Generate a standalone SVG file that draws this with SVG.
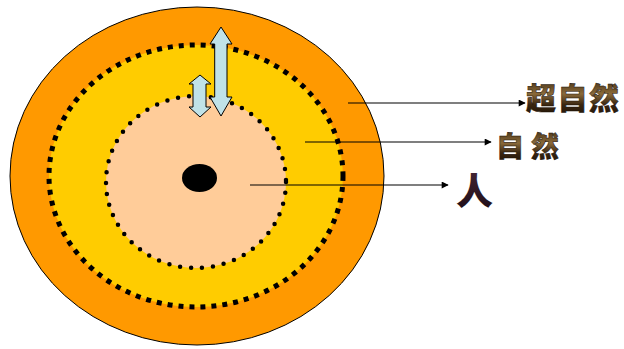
<svg xmlns="http://www.w3.org/2000/svg" width="624" height="349" viewBox="0 0 624 349">
<style>
.lbl{font-family:"Noto Sans CJK SC","Noto Sans CJK TC",sans-serif;font-weight:900;}
.conn{stroke:#000;stroke-width:1.2;fill:none;marker-end:url(#ah);}
.dbl{fill:#C0E2E8;stroke:#000;stroke-width:1;}
</style>
<defs>
<marker id="ah" viewBox="0 0 10 10" refX="9" refY="5" markerWidth="8" markerHeight="7" markerUnits="userSpaceOnUse" orient="auto">
<path d="M0,0 L10,5 L0,10 z" fill="#000"/>
</marker>
<linearGradient id="gold" x1="0" y1="0" x2="0" y2="1">
<stop offset="0" stop-color="#2a1a08"/>
<stop offset="0.45" stop-color="#8a6a3a"/>
<stop offset="0.7" stop-color="#3a2610"/>
<stop offset="1" stop-color="#1a1006"/>
</linearGradient>
<linearGradient id="maroon" x1="0" y1="0" x2="0" y2="1">
<stop offset="0" stop-color="#4a2a3a"/>
<stop offset="1" stop-color="#1a0a14"/>
</linearGradient>
</defs>
<g id="outer">
<ellipse cx="197" cy="176" rx="187" ry="169" fill="#FF9900" stroke="#000" stroke-width="1"/>
</g>
<g id="middle">
<ellipse cx="196" cy="176" rx="147" ry="131" fill="#FFCC00" stroke="#000" stroke-width="5" stroke-dasharray="5 6"/>
</g>
<g id="inner">
<ellipse cx="196" cy="182" rx="90" ry="86" fill="#FFCC99" stroke="#000" stroke-width="4.5" stroke-linecap="round" stroke-dasharray="0 11"/>
</g>
<g id="person-dot">
<ellipse cx="199.5" cy="178" rx="17.5" ry="14" fill="#000"/>
</g>
<g id="arrow-big">
<path class="dbl" d="M221,27 L232,44 L227,44 L227,97 L232,97 L221,116 L210,97 L214.7,97 L214.7,44 L210,44 Z"/>
</g>
<g id="arrow-small">
<path class="dbl" d="M200,75 L211,84 L206,84 L206,107 L211,107 L200,117 L189,107 L193,107 L193,84 L189,84 Z"/>
</g>
<g id="connectors">
<line class="conn" x1="348" y1="103" x2="525" y2="103"/>
<line class="conn" x1="305" y1="142" x2="491" y2="142"/>
<line class="conn" x1="250" y1="185" x2="448" y2="185"/>
</g>
<g id="label-supernature">
<text class="lbl" x="526" y="109" font-size="30" letter-spacing="1.5" fill="url(#gold)" stroke="#1a1006" stroke-width="0.5">超自然</text>
</g>
<g id="label-nature">
<text class="lbl" x="496" y="157" font-size="28" letter-spacing="7" fill="url(#gold)" stroke="#1a1006" stroke-width="0.5">自然</text>
</g>
<g id="label-person">
<text class="lbl" x="456" y="205" font-size="37" fill="url(#maroon)">人</text>
</g>
</svg>
